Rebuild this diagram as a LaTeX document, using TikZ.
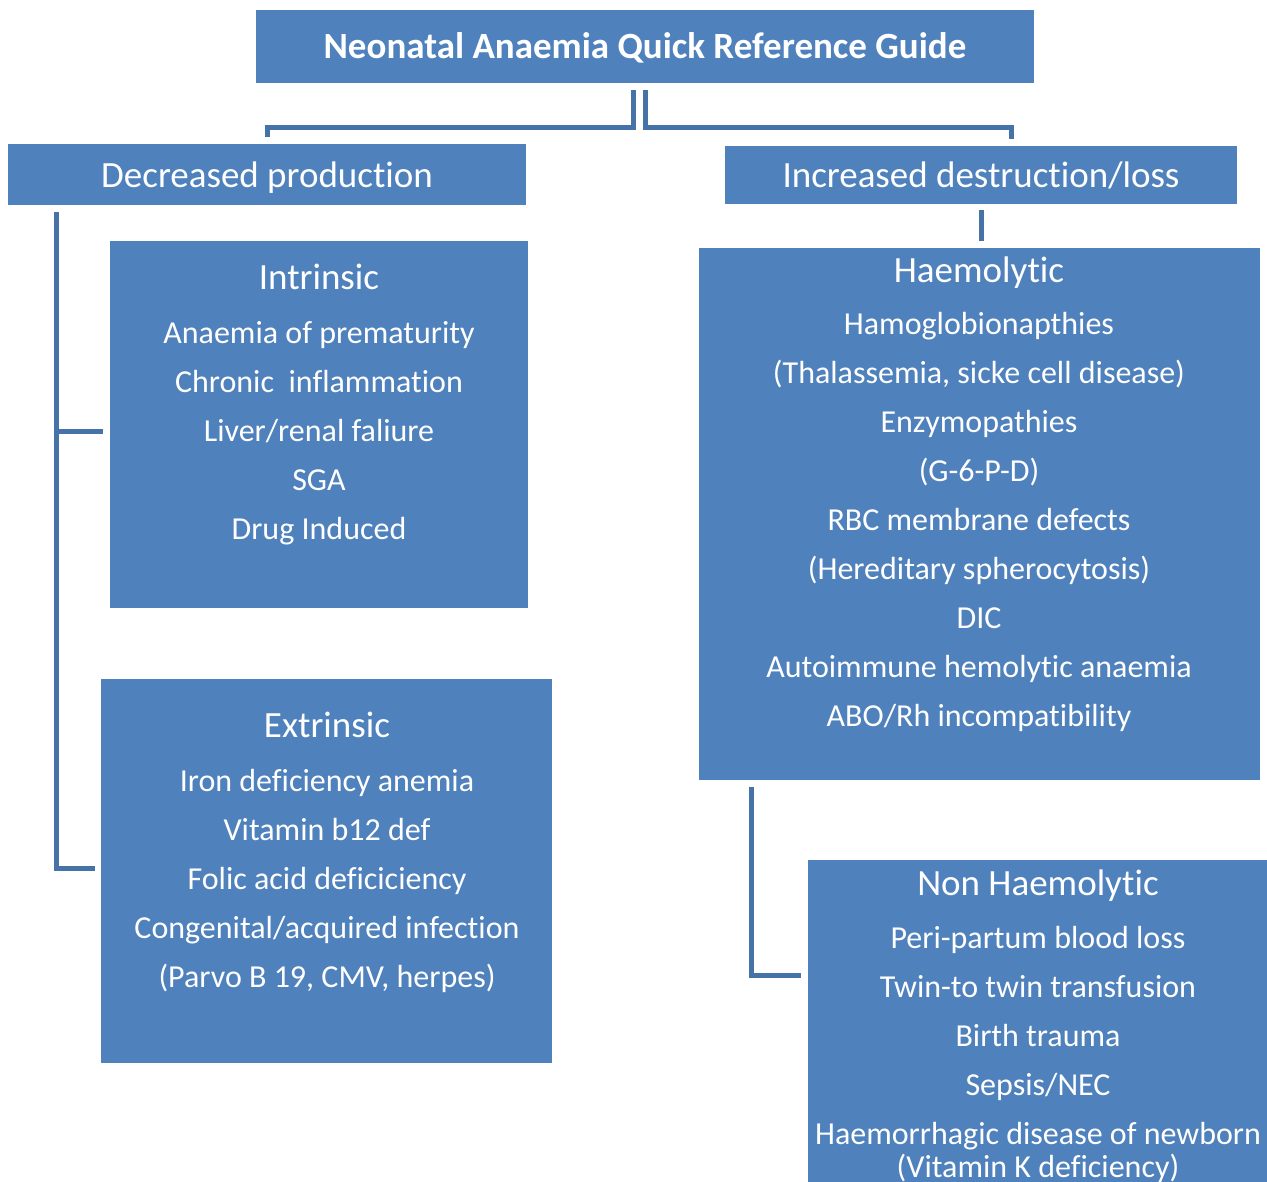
\documentclass[tikz,border=0pt]{standalone}
\usepackage{fontspec}
\setmainfont{Carlito}[Ligatures={NoCommon,NoRequired,NoContextual,NoRare}]
\usetikzlibrary{positioning}
\definecolor{boxblue}{HTML}{4F81BD}
\definecolor{linkblue}{HTML}{4572A7}
\tikzset{
  box/.style={fill=boxblue, draw=none, inner sep=0pt},
  head/.style={text=white, inner sep=0pt, text height=25pt, text depth=0.5pt, font=\fontsize{37}{44}\selectfont},
  item/.style={text=white, inner sep=0pt, text height=23pt, text depth=0.5pt, font=\fontsize{32}{38}\selectfont},
  link/.style={draw=linkblue, line width=5pt},
}
\begin{document}
\begin{tikzpicture}[x=1pt,y=-1pt]
\useasboundingbox (0,0) rectangle (1267,1182);

% boxes
\node[box, minimum width=778, minimum height=73] (title) at (645,46.5) {};
\node[box, minimum width=518, minimum height=61] (dec) at (267,174.5) {};
\node[box, minimum width=512, minimum height=58] (inc) at (981,175) {};
\node[box, minimum width=418, minimum height=367] (intr) at (319,424.5) {};
\node[box, minimum width=451, minimum height=384] (extr) at (326.5,871) {};
\node[box, minimum width=561, minimum height=532] (haem) at (979.5,514) {};
\node[box, minimum width=460, minimum height=340] (nonh) at (1038,1030) {};

% texts
\node[head, font=\fontsize{37}{44}\selectfont\bfseries] (titleT) at (645,46) {Neonatal Anaemia Quick Reference Guide};
\node[head] (decT) at (267,175) {Decreased production};
\node[head] (incT) at (981,175) {Increased destruction/loss};

\node[head] (intrT) at (319,277) {Intrinsic};
\foreach \t [count=\i] in {Anaemia of prematurity, Chronic\ \ inflammation, Liver/renal faliure, SGA, Drug Induced}
  \node[item] (intr-\i) at (319,283+49*\i) {\t};

\node[head] (extrT) at (327,725) {Extrinsic};
\foreach \t [count=\i] in {Iron deficiency anemia, Vitamin b12 def, Folic acid deficiciency, Congenital/acquired infection, {(Parvo B 19, CMV, herpes)}}
  \node[item] (extr-\i) at (327,731+49*\i) {\t};

\node[head] (haemT) at (979,270) {Haemolytic};
\foreach \t [count=\i] in {Hamoglobionapthies, {(Thalassemia, sicke cell disease)}, Enzymopathies, (G-6-P-D), RBC membrane defects, (Hereditary spherocytosis), DIC, Autoimmune hemolytic anaemia, ABO/Rh incompatibility}
  \node[item] (haem-\i) at (979,274+49*\i) {\t};

\node[head] (nonhT) at (1038,883) {Non Haemolytic};
\foreach \t [count=\i] in {Peri-partum blood loss, Twin-to twin transfusion, Birth trauma, Sepsis/NEC, Haemorrhagic disease of newborn}
  \node[item] (nonh-\i) at (1038,888+49*\i) {\t};
\node[item] (nonh-6) at (1038,1166) {(Vitamin K deficiency)};

% connectors
\draw[link, shorten <=7pt, shorten >=7pt] ([xshift=-12pt]title.south) -- ++(0,44) -| (dec.north);
\draw[link, shorten <=7pt, shorten >=7pt] (title.south) -- ++(0,44) -| ([xshift=30pt]inc.north);
\draw[link, shorten <=6pt, shorten >=7pt] (inc.south) -- (inc.south |- haem.north);

\coordinate (trunk) at ([xshift=49pt,yshift=-7pt]dec.south west);
\draw[link, shorten >=6pt] (trunk) |- ([yshift=3pt]extr.west);
\draw[link, shorten >=7pt] (trunk |- intr.west) ++(0,6.5) -- ([yshift=-6.5pt]intr.west);

\coordinate (branch) at ([xshift=53pt,yshift=-7pt]haem.south west);
\draw[link, shorten >=7pt] (branch) |- ([yshift=55pt]nonh.west);
\end{tikzpicture}
\end{document}
